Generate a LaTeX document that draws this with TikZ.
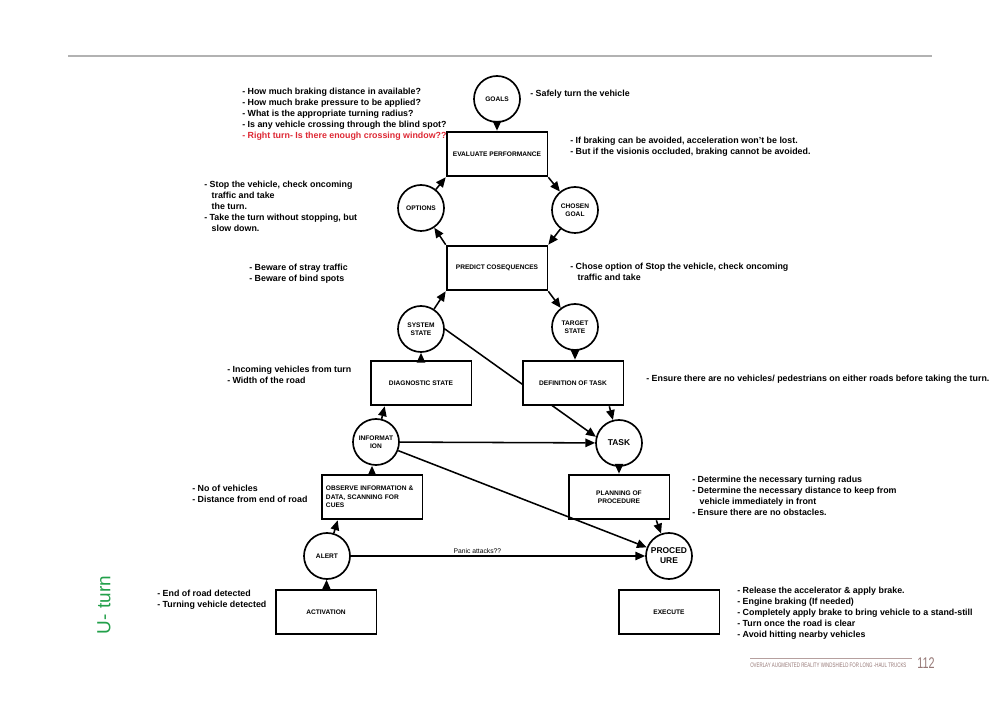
\documentclass[tikz,border=0pt]{standalone}
\usepackage{fontspec}
\setmainfont{Liberation Sans}
\usetikzlibrary{arrows.meta,calc}
\definecolor{alertred}{RGB}{222,40,52}
\definecolor{uturn}{RGB}{34,160,74}
\definecolor{footc}{RGB}{150,120,118}
\begin{document}
\begin{tikzpicture}[x=0.025cm,y=-0.025cm,
  circ/.style={circle,draw,line width=1.2pt,fill=white,minimum size=1.15cm,inner sep=0pt,align=center,font=\bfseries\fontsize{4.7}{5.9}\selectfont},
  bigcirc/.style={circ,font=\bfseries\fontsize{6}{7.2}\selectfont},
  box/.style={rectangle,draw,line width=1.3pt,fill=white,minimum width=2.52cm,minimum height=1.12cm,inner sep=1pt,align=center,font=\bfseries\fontsize{4.7}{5.9}\selectfont},
  arr/.style={-{Triangle[length=7pt,width=6pt]},line width=1.1pt},
  note/.style={anchor=north west,inner sep=0pt,align=left,font=\bfseries\fontsize{6.3}{7.85}\selectfont}
]
\useasboundingbox (0,0) rectangle (1000,707);
\fill[white] (0,0) rectangle (1000,707);

% header rule
\draw[gray!60,line width=0.8pt] (68,56) -- (932,56);

% nodes
\node[circ] (goals) at (497,99) {GOALS};
\node[circ] (opt) at (421,208) {OPTIONS};
\node[circ] (chosen) at (575,210) {CHOSEN\\GOAL};
\node[circ] (sys) at (421,329) {SYSTEM\\STATE};
\node[circ] (target) at (575,327) {TARGET\\STATE};
\node[circ] (info) at (376,442) {INFORMAT\\ION};
\node[bigcirc] (task) at (619,443) {TASK};
\node[circ] (alert) at (327,556) {ALERT};
\node[bigcirc] (proc) at (669,556) {PROCED\\URE};

% line system state -> task passes behind definition box
\draw[arr] (sys.east) -- (task.165);

\node[box] (eval) at (497,154) {EVALUATE PERFORMANCE};
\node[box] (pred) at (497,268) {PREDICT COSEQUENCES};
\node[box] (diag) at (421,383) {DIAGNOSTIC STATE};
\node[box] (def) at (573,383) {DEFINITION OF TASK};
\node[box,text width=2.3cm,align=left] (obs) at (372,497) {OBSERVE INFORMATION \&\\DATA, SCANNING FOR\\CUES};
\node[box] (plan) at (619,497) {PLANNING OF\\PROCEDURE};
\node[box] (act) at (326,612) {ACTIVATION};
\node[box] (exec) at (669,612) {EXECUTE};

% connectors
\draw[arr] (goals) -- (eval);
\draw[arr] (opt) -- (eval.south west);
\draw[arr] (eval.south east) -- (chosen);
\draw[arr] (chosen) -- (pred.north east);
\draw[arr] (pred.north west) -- (opt);
\draw[arr] (sys) -- (pred.south west);
\draw[arr] (pred.south east) -- (target);
\draw[arr] (diag) -- (sys);
\draw[arr] (target) -- (target |- def.north);
\draw[arr] ($(def.south east)+(-15,0)$) -- (task);
\draw[arr] (info) -- ($(diag.south west)+(15,0)$);
\draw[arr] (info) -- (task);
\draw[arr] (info) -- (proc);
\draw[arr] (obs) -- (obs |- info.south);
\draw[arr] (task) -- (plan);
\draw[arr] ($(plan.south east)+(-14,0)$) -- (proc);
\draw[arr] (alert) -- ($(obs.south west)+(17,0)$);
\draw[arr] (alert) -- node[pos=0.43,above=0.5pt,inner sep=1pt,font=\fontsize{4.8}{5.6}\selectfont] (panic) {Panic attacks??} (proc);
\draw[arr] (act) -- (alert);

% notes
\node[note] (n1) at (242,88) {- How much braking distance in available?\\- How much brake pressure to be applied?\\- What is the appropriate turning radius?\\- Is any vehicle crossing through the blind spot?\\\textcolor{alertred}{- Right turn- Is there enough crossing window??}};
\node[note] (n2) at (530,90) {- Safely turn the vehicle};
\node[note] (n3) at (570,137) {- If braking can be avoided, acceleration won't be lost.\\- But if the visionis occluded, braking cannot be avoided.};
\node[note] (n4) at (204,181) {- Stop the vehicle, check oncoming\\\ \ \ traffic and take\\\ \ \ the turn.\\- Take the turn without stopping, but\\\ \ \ slow down.};
\node[note] (n5) at (249,264) {- Beware of stray traffic\\- Beware of bind spots};
\node[note] (n6) at (570,263) {- Chose option of Stop the vehicle, check oncoming\\\ \ \ traffic and take};
\node[note] (n7) at (227,366) {- Incoming vehicles from turn\\- Width of the road};
\node[note] (n8) at (646,375) {- Ensure there are no vehicles/ pedestrians on either roads before taking the turn.};
\node[note] (n9) at (192,485) {- No of vehicles\\- Distance from end of road};
\node[note] (n10) at (692,476) {- Determine the necessary turning radus\\- Determine the necessary distance to keep from\\\ \ \ vehicle immediately in front\\- Ensure there are no obstacles.};
\node[note] (n11) at (157,590) {- End of road detected\\- Turning vehicle detected};
\node[note] (n12) at (737,587) {- Release the accelerator \& apply brake.\\- Engine braking (If needed)\\- Completely apply brake to bring vehicle to a stand-still\\- Turn once the road is clear\\- Avoid hitting nearby vehicles};

% side title
\node[rotate=90,text=uturn,font=\fontsize{13.5}{15}\selectfont,inner sep=0pt] (title) at (104,605) {U- turn};

% footer
\draw[footc!70,line width=0.6pt] (750,658) -- (912,658);
\node[anchor=west,inner sep=0pt,text=footc,font=\fontsize{4.6}{5}\selectfont] (foot) at (750,665) {\scalebox{0.68}[1]{OVERLAY AUGMENTED REALITY WINDSHIELD FOR LONG -HAUL TRUCKS}};
\node[anchor=west,inner sep=0pt,text=footc,font=\fontsize{11}{12}\selectfont] (page) at (917,663) {\scalebox{0.7}[1]{112}};
\end{tikzpicture}
\end{document}
